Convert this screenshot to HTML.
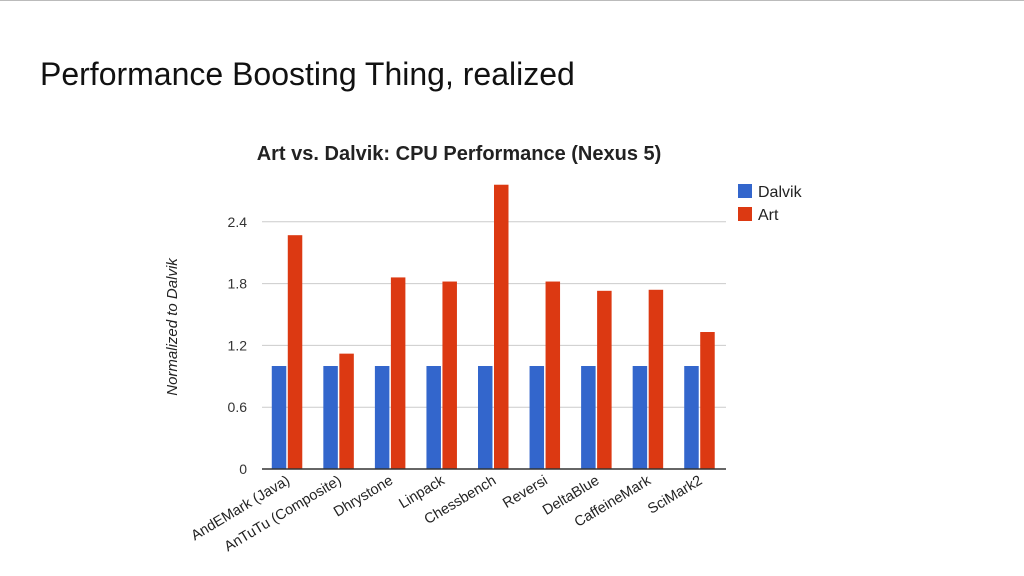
<!DOCTYPE html>
<html><head><meta charset="utf-8"><style>
body{margin:0;width:1024px;height:576px;background:#fff;overflow:hidden;font-family:"Liberation Sans",Arial,sans-serif}
#top{position:absolute;left:0;top:0;width:1024px;height:1px;background:#bbb}
h1{position:absolute;left:40px;top:56px;margin:0;font-weight:normal;font-size:32px;color:#111}
svg{position:absolute;left:0;top:0}
</style></head><body>
<div id="top"></div>
<h1>Performance Boosting Thing, realized</h1>
<svg id="c" width="1024" height="576"></svg>
<script>
const categories=["AndEMark (Java)","AnTuTu (Composite)","Dhrystone","Linpack","Chessbench","Reversi","DeltaBlue","CaffeineMark","SciMark2"];
const dalvik=[1,1,1,1,1,1,1,1,1];
const art=[2.27,1.12,1.86,1.82,2.76,1.82,1.73,1.74,1.33];
const ticks=[0,0.6,1.2,1.8,2.4];
const X0=262,X1=726,Y0=469,PX=103;
const y=v=>Y0-v*PX;
const band=(X1-X0)/categories.length;
const xc=i=>X0+band*(i+0.5);
const svg=document.getElementById('c');
const NS='http://www.w3.org/2000/svg';
function mk(t,a,txt){const e=document.createElementNS(NS,t);for(const k in a)e.setAttribute(k,a[k]);if(txt!=null)e.textContent=txt;svg.appendChild(e);return e;}
let e=mk('text',{x:459,y:160,'text-anchor':'middle','font-size':20,'font-weight':'bold',fill:'#222'},'Art vs. Dalvik: CPU Performance (Nexus 5)');


e=mk('text',{x:0,y:0,transform:'translate(177,327) rotate(-90)','text-anchor':'middle','font-size':15,'font-style':'italic',fill:'#222'},'Normalized to Dalvik');


ticks.forEach(t=>{
  if(t>0){const g=mk('line',{x1:X0,x2:X1,y1:y(t),y2:y(t),stroke:'#ccc','stroke-width':1});
  
  }
  const l=mk('text',{x:X0-15,y:y(t)+5,'text-anchor':'end','font-size':14,fill:'#333'},t===0?'0':t.toFixed(1));
  
  
});
categories.forEach((c,i)=>{
  const cx=xc(i);
  const b1=mk('rect',{x:cx-16,y:y(dalvik[i]),width:14.5,height:dalvik[i]*PX,fill:'#3366cc'});
  
  
  const b2=mk('rect',{x:cx,y:y(art[i]),width:14.5,height:art[i]*PX,fill:'#dc3912'});
  
  
  const l=mk('text',{x:0,y:0,transform:`translate(${cx+3},483) rotate(-31)`,'text-anchor':'end','font-size':14.5,fill:'#222'},c);
  
  
});
e=mk('line',{x1:X0,x2:X1,y1:Y0,y2:Y0,stroke:'#333','stroke-width':1.5});


[['Dalvik','#3366cc',184],['Art','#dc3912',207]].forEach(([n,col,yy])=>{
  const r=mk('rect',{x:738,y:yy,width:14,height:14,fill:col});
  
  
  const t=mk('text',{x:758,y:yy+13,'font-size':16,fill:'#222'},n);
  
  
});
</script>
</body></html>
